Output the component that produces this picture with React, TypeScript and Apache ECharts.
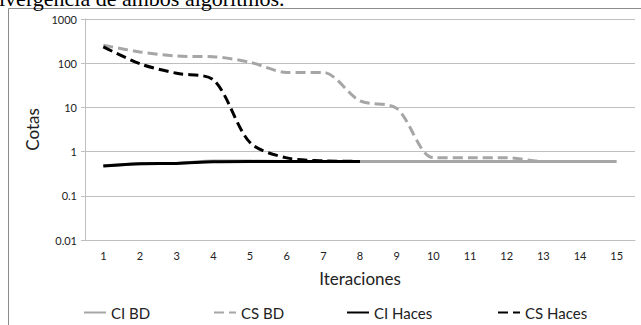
import React, { useEffect, useRef } from "react";
import * as echarts from "echarts";

const categories = ["1","2","3","4","5","6","7","8","9","10","11","12","13","14","15"];
const ciBD = [0.48, 0.53, 0.54, 0.61, 0.61, 0.6, 0.6, 0.6, 0.6, 0.6, 0.6, 0.6, 0.6, 0.6, 0.6];
const csBD = [255, 180, 145, 140, 105, 62, 62, 14, 9.5, 0.73, 0.73, 0.73, 0.6, 0.6, 0.6];
const ciHaces = [0.47, 0.53, 0.54, 0.59, 0.6, 0.6, 0.6, 0.6, null, null, null, null, null, null, null];
const csHaces = [235, 97, 59, 42, 1.6, 0.72, 0.62, 0.6, null, null, null, null, null, null, null];
const seriesNames = ["CI BD", "CS BD", "CI Haces", "CS Haces"];
const legendLefts = [78, 208, 341, 492];

const GRAY = "#a6a6a6";
const FONT = "Lato";

export default function App() {
  const ref = useRef<HTMLDivElement>(null);
  useEffect(() => {
    if (!ref.current) return;
    const chart = echarts.init(ref.current, null, { renderer: "svg" });
    const mk = (name: string, data: any[], color: string, dashed: boolean, z: number) => ({
      name,
      type: "line",
      data,
      symbol: "none",
      smooth: 0.3,
      connectNulls: false,
      z,
      lineStyle: { color, width: 3, type: dashed ? [10, 5] : "solid", cap: "butt" },
      itemStyle: { color },
    });
    chart.setOption({
      animation: false,
      backgroundColor: "#fff",
      textStyle: { fontFamily: FONT },
      grid: { left: 85, right: 6, top: 19, bottom: 85, containLabel: false },
      xAxis: {
        type: "category",
        data: categories,
        boundaryGap: true,
        name: "Iteraciones",
        nameLocation: "middle",
        nameGap: 30,
        nameTextStyle: { fontSize: 17, color: "#222", fontFamily: FONT },
        axisLine: { show: true, lineStyle: { color: "#bfbfbf", width: 1 } },
        axisTick: { show: false },
        axisLabel: { fontSize: 11, color: "#222", margin: 10, fontFamily: FONT },
      },
      yAxis: {
        type: "log",
        logBase: 10,
        min: 0.01,
        max: 1000,
        name: "Cotas",
        nameLocation: "middle",
        nameGap: 44,
        nameTextStyle: { fontSize: 17, color: "#222", fontFamily: FONT },
        axisLine: { show: true, lineStyle: { color: "#bfbfbf", width: 1 } },
        axisTick: { show: true, length: 4, lineStyle: { color: "#bfbfbf" } },
        splitLine: { show: true, lineStyle: { color: "#bfbfbf", width: 1 } },
        axisLabel: {
          fontSize: 11,
          color: "#222",
          margin: 8,
          fontFamily: FONT,
          formatter: (v: number) => (v >= 1 ? String(Math.round(v)) : String(Number(v.toPrecision(1)))),
        },
      },
      legend: seriesNames.map((n, i) => ({
        data: [n],
        left: legendLefts[i],
        top: 300,
        itemWidth: 22,
        itemHeight: 14,
        itemStyle: { opacity: 0 },
        textStyle: { fontSize: 15, color: "#222", fontFamily: FONT },
      })),
      graphic: [
        {
          type: "rect",
          shape: { x: 8.5, y: 8.5, width: 700, height: 400 },
          style: { fill: "none", stroke: "#8c8c8c", lineWidth: 1 },
          z: 100,
        },
        {
          type: "text",
          x: -1,
          y: 9,
          style: {
            text: "ivergencia de ambos algoritmos.",
            fontFamily: "Liberation Serif",
            fontSize: 22,
            fill: "#000",
            verticalAlign: "bottom",
          },
          z: 101,
        },
      ],
      series: [
        mk(seriesNames[0], ciBD, GRAY, false, 2),
        mk(seriesNames[1], csBD, GRAY, true, 3),
        mk(seriesNames[2], ciHaces, "#000", false, 4),
        mk(seriesNames[3], csHaces, "#000", true, 5),
      ],
    });
    return () => chart.dispose();
  }, []);
  return (
    <div
      ref={ref}
      style={{ position: "fixed", left: 0, top: 0, width: 641, height: 325, background: "#fff" }}
    />
  );
}
